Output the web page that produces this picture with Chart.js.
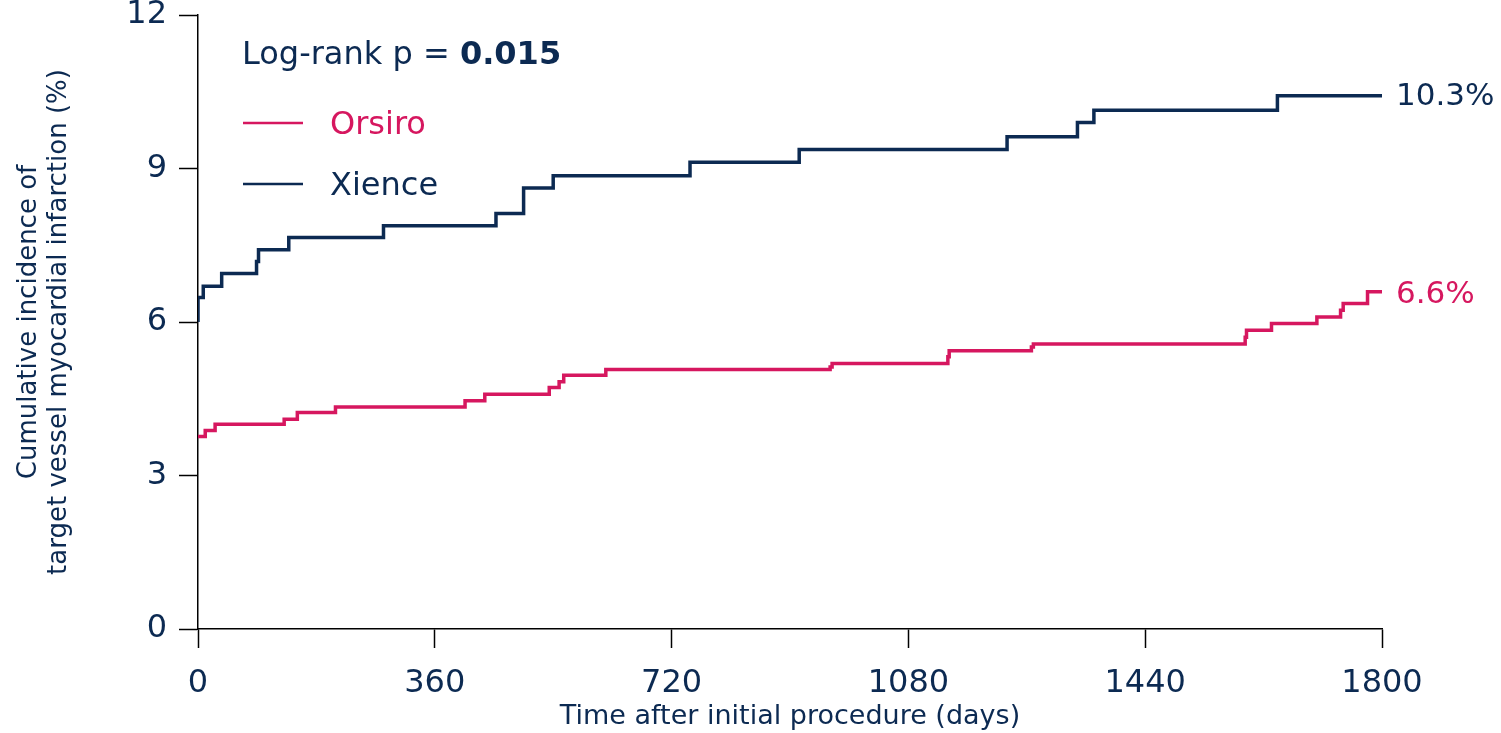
<!DOCTYPE html>
<html>
<head>
<meta charset="utf-8">
<script src="https://cdn.jsdelivr.net/npm/chart.js@4"></script>
<style>
  html, body { margin: 0; padding: 0; background: #fff; }
  #wrap { width: 1501px; height: 733px; }
</style>
</head>
<body>
<div id="wrap"><canvas id="kmChart"></canvas></div>
<script>
// days at which each curve steps, and the cumulative incidence (%) after the step
var xienceDays = [0, 0, 8, 36, 89, 92, 138, 282, 453, 495, 540, 748, 914, 1230, 1337, 1362, 1641, 1800];
var xienceVals = [6.0, 6.48, 6.70, 6.95, 7.18, 7.41, 7.65, 7.88, 8.12, 8.62, 8.86, 9.12, 9.37, 9.62, 9.90, 10.14, 10.42, 10.42];

var orsiroDays = [0, 11, 26, 131, 151, 209, 406, 436, 534, 549, 556, 620, 961, 964, 1140, 1142, 1267, 1270, 1592, 1594, 1632, 1701, 1737, 1741, 1778, 1800];
var orsiroVals = [3.76, 3.88, 4.00, 4.10, 4.23, 4.34, 4.46, 4.59, 4.72, 4.83, 4.96, 5.07, 5.12, 5.19, 5.32, 5.44, 5.51, 5.57, 5.70, 5.84, 5.97, 6.10, 6.23, 6.36, 6.59, 6.59];

var xTicks = [0, 360, 720, 1080, 1440, 1800];
var yTicks = [0, 3, 6, 9, 12];

var xienceLabel = '10.3%';
var orsiroLabel = '6.6%';
var pValue = '0.015';

var NAVY = '#0c2a52';
var PINK = '#d6175f';
var FONT = '"DejaVu Sans", Verdana, sans-serif';

function toPoints(days, vals) {
	var pts = [];
	for (var i = 0; i < days.length; i++) {
		pts.push({x: days[i], y: vals[i]});
	}
	return pts;
}

// legend, p-value and end labels
var annotations = {
	id: 'annotations',
	afterDraw: function(chart) {
		var ctx = chart.ctx;
		var xs = chart.scales.x, ys = chart.scales.y;
		ctx.save();
		ctx.textBaseline = 'middle';
		ctx.textAlign = 'left';

		ctx.font = '32px ' + FONT;
		ctx.fillStyle = NAVY;
		var pre = 'Log-rank p = ';
		ctx.fillText(pre, 242, 56);
		var w = ctx.measureText(pre).width;
		ctx.font = 'bold 32px ' + FONT;
		ctx.fillText(pValue, 242 + w, 56);

		ctx.lineWidth = 2.5;
		ctx.strokeStyle = PINK;
		ctx.beginPath(); ctx.moveTo(243, 123); ctx.lineTo(303, 123); ctx.stroke();
		ctx.strokeStyle = NAVY;
		ctx.beginPath(); ctx.moveTo(243, 184); ctx.lineTo(303, 184); ctx.stroke();

		ctx.font = '32px ' + FONT;
		ctx.fillStyle = PINK;
		ctx.fillText('Orsiro', 330, 126);
		ctx.fillStyle = NAVY;
		ctx.fillText('Xience', 330, 187);

		var lastX = xs.getPixelForValue(xienceDays[xienceDays.length - 1]);
		ctx.font = '31px ' + FONT;
		ctx.fillStyle = NAVY;
		ctx.fillText(xienceLabel, lastX + 14, ys.getPixelForValue(xienceVals[xienceVals.length - 1]) + 1);
		ctx.fillStyle = PINK;
		ctx.fillText(orsiroLabel, lastX + 14, ys.getPixelForValue(orsiroVals[orsiroVals.length - 1]) + 3);
		ctx.restore();
	}
};

var ctx = document.getElementById('kmChart').getContext('2d');
var chart = new Chart(ctx, {
	type: 'line',
	data: {
		datasets: [{
			label: 'Orsiro',
			data: toPoints(orsiroDays, orsiroVals),
			borderColor: PINK,
			borderWidth: 3.5,
			stepped: true,
			pointRadius: 0,
			fill: false
		}, {
			label: 'Xience',
			data: toPoints(xienceDays, xienceVals),
			borderColor: NAVY,
			borderWidth: 3.5,
			stepped: true,
			pointRadius: 0,
			fill: false
		}]
	},
	options: {
		responsive: true,
		maintainAspectRatio: false,
		animation: false,
		layout: { padding: { left: 0, top: 0, right: 119, bottom: 0 } },
		plugins: { legend: { display: false }, tooltip: { enabled: false } },
		scales: {
			x: {
				type: 'linear',
				min: 0,
				max: 1800,
				afterBuildTicks: function(scale) {
					scale.ticks = xTicks.map(function(v) { return {value: v}; });
				},
				afterFit: function(scale) { scale.height = 104; },
				grid: { drawOnChartArea: false, drawTicks: true, tickLength: 19, tickColor: '#000', tickWidth: 1.5 },
				border: { display: true, color: '#000', width: 1.5 },
				ticks: {
					color: NAVY, font: { family: FONT, size: 32 }, padding: 16, maxRotation: 0,
					callback: function(v) { return String(v); }
				},
				title: {
					display: true,
					text: 'Time after initial procedure (days)',
					color: NAVY,
					font: { family: FONT, size: 27 },
					padding: { top: 0, bottom: 0 }
				}
			},
			y: {
				min: 0,
				max: 12,
				afterBuildTicks: function(scale) {
					scale.ticks = yTicks.map(function(v) { return {value: v}; });
				},
				afterFit: function(scale) {
					scale.width = 198;
					scale.paddingTop = 15;
				},
				grid: { drawOnChartArea: false, drawTicks: true, tickLength: 19, tickColor: '#000', tickWidth: 1.5 },
				border: { display: true, color: '#000', width: 1.5 },
				ticks: {
					color: NAVY, font: { family: FONT, size: 32 }, padding: 12,
					callback: function(v) { return String(v); }
				},
				title: {
					display: true,
					text: ['Cumulative incidence of', 'target vessel myocardial infarction (%)'],
					color: NAVY,
					font: { family: FONT, size: 26, lineHeight: 1.154 },
					padding: { top: 14, bottom: 0 }
				}
			}
		}
	},
	plugins: [annotations]
});
</script>
</body>
</html>
